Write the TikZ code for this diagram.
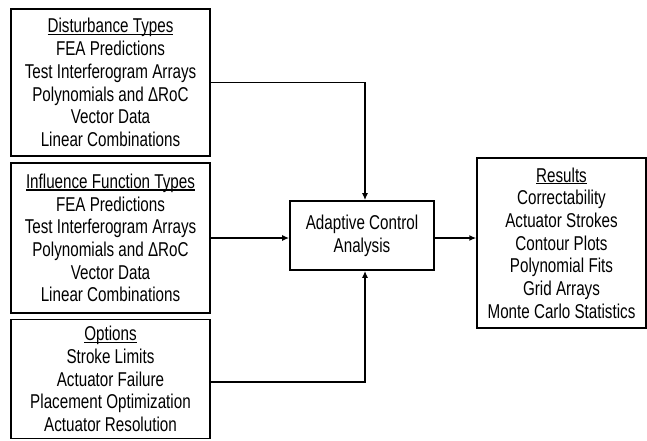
\documentclass[tikz,border=0pt]{standalone}
\usepackage{fontspec}
\setmainfont[FakeStretch=0.76]{Liberation Sans}
\usetikzlibrary{arrows.meta}
\usetikzlibrary{calc}

% underline that sits close to the baseline
\newcommand{\heading}[1]{\setbox0\hbox{#1}\rlap{\rule[-2.2pt]{\wd0}{1.2pt}}\box0}

\tikzset{
	block/.style = {draw, line width=1.7pt, align=center, inner sep=0pt,
		font=\fontsize{20}{22.7}\selectfont},
	link/.style = {line width=1.4pt, -{Latex[length=7pt, width=6pt]}}
}

\begin{document}
\begin{tikzpicture}[x=1pt, y=-1pt]
	\useasboundingbox (0,0) rectangle (647,440);
	\node[block, minimum width=199pt, minimum height=147pt] (dist) at (110.5,82.5)
		{\heading{Disturbance Types}\\FEA Predictions\\Test Interferogram Arrays\\Polynomials and ΔRoC\\Vector Data\\Linear Combinations};
	\node[block, minimum width=199pt, minimum height=150pt] (infl) at (110.5,238)
		{\heading{Influence Function Types}\\FEA Predictions\\Test Interferogram Arrays\\Polynomials and ΔRoC\\Vector Data\\Linear Combinations};
	\node[block, minimum width=199pt, minimum height=119pt] (opts) at (110.5,379)
		{\heading{Options}\\Stroke Limits\\Actuator Failure\\Placement Optimization\\Actuator Resolution};
	\node[block, minimum width=144pt, minimum height=69pt] (ctrl) at (362,235.5)
		{Adaptive Control\\Analysis};
	\node[block, line width=1.4pt, minimum width=169pt, minimum height=170pt] (res) at (561.5,243)
		{\heading{Results}\\Correctability\\Actuator Strokes\\Contour Plots\\Polynomial Fits\\Grid Arrays\\Monte Carlo Statistics};
	% inputs
	\draw[link] (dist.east) -| ($(ctrl.north)+(3,0)$);
	\draw[link] (infl.east) -- (infl.east -| ctrl.west);
	\draw[link] ($(opts.east)+(0,3)$) -| ($(ctrl.south)+(3,0)$);
	% output
	\draw[link] (ctrl.east |- infl.east) -- (res.west |- infl.east);
\end{tikzpicture}
\end{document}
